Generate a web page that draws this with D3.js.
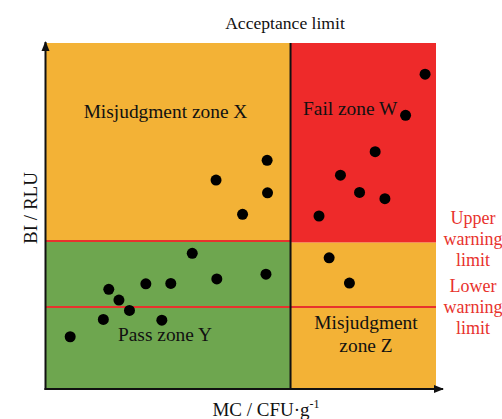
<!DOCTYPE html>
<html>
<head>
<meta charset="utf-8">
<script src="https://cdn.jsdelivr.net/npm/d3@7"></script>
<style>
  html, body { margin: 0; padding: 0; background: #fff; }
  svg text { font-family: "Liberation Serif", "Times New Roman", serif; }
</style>
</head>
<body>
<svg id="chart" width="502" height="419"></svg>
<script>
// Limits (in relative units, 0–100 on each axis)
const acceptanceLimit = 62.7;
const upperWarning = 42.8;
const lowerWarning = 23.7;

// Sample points per zone: [MC, BI]
const zoneXPoints = [[56.7, 66.1], [43.6, 60.4], [56.8, 56.7], [50.4, 50.5]];
const zoneWPoints = [[97.2, 91.0], [92.2, 79.1], [84.4, 68.6], [75.5, 61.8], [80.4, 56.8], [86.9, 55.0], [70.0, 50.0]];
const zoneZPoints = [[72.6, 37.9], [77.8, 30.6]];
const zoneYPoints = [[37.5, 39.2], [56.4, 33.2], [43.8, 31.8], [32.0, 30.5], [25.6, 30.4], [16.1, 28.8],
                     [18.7, 25.7], [21.4, 22.7], [14.7, 20.1], [29.7, 19.9], [6.2, 15.1]];

const zoneLabels = ["Misjudgment zone X", "Fail zone W", "Pass zone Y", "Misjudgment zone Z"];

const svg = d3.select("#chart");
const plotLeft = 46, plotRight = 436, plotTop = 43, plotBottom = 389;
const x = d3.scaleLinear().domain([0, 100]).range([plotLeft, plotRight]);
const y = d3.scaleLinear().domain([0, 100]).range([plotBottom, plotTop]);

const orange = "#F3B236", red = "#EE2A2A", green = "#6EA64F", warnRed = "#E8322D";

// Zone backgrounds
const zones = [
  { x0: 0, x1: acceptanceLimit, y0: upperWarning, y1: 100, fill: orange },
  { x0: acceptanceLimit, x1: 100, y0: upperWarning - 0.5, y1: 100, fill: red },
  { x0: 0, x1: acceptanceLimit, y0: 0, y1: upperWarning, fill: green },
  { x0: acceptanceLimit, x1: 100, y0: 0, y1: upperWarning - 0.5, fill: orange }
];
svg.selectAll("rect.zone").data(zones).enter().append("rect")
  .attr("class", "zone")
  .attr("x", d => x(d.x0)).attr("y", d => y(d.y1))
  .attr("width", d => x(d.x1) - x(d.x0)).attr("height", d => y(d.y0) - y(d.y1))
  .attr("fill", d => d.fill);

// Warning limits
svg.append("line")
  .attr("x1", x(0)).attr("x2", x(acceptanceLimit))
  .attr("y1", y(upperWarning)).attr("y2", y(upperWarning))
  .attr("stroke", warnRed).attr("stroke-width", 2);
svg.append("line")
  .attr("x1", x(0)).attr("x2", x(100))
  .attr("y1", y(lowerWarning)).attr("y2", y(lowerWarning))
  .attr("stroke", warnRed).attr("stroke-width", 2);

// Acceptance limit
svg.append("line")
  .attr("x1", x(acceptanceLimit)).attr("x2", x(acceptanceLimit))
  .attr("y1", y(100)).attr("y2", y(0))
  .attr("stroke", "#111").attr("stroke-width", 2);

// Axes with arrow heads
const defs = svg.append("defs");
defs.append("marker").attr("id", "arrow")
  .attr("viewBox", "0 0 10 10").attr("refX", 9).attr("refY", 5)
  .attr("markerWidth", 5).attr("markerHeight", 5).attr("orient", "auto")
  .append("path").attr("d", "M0,1 L10,5 L0,9 z").attr("fill", "#111");
svg.append("line")
  .attr("x1", x(0) - 0.5).attr("x2", x(0) - 0.5)
  .attr("y1", y(0) + 1).attr("y2", y(100) - 1)
  .attr("stroke", "#111").attr("stroke-width", 2).attr("marker-end", "url(#arrow)");
svg.append("line")
  .attr("x1", x(0) - 1.5).attr("x2", x(100) + 7)
  .attr("y1", y(0)).attr("y2", y(0))
  .attr("stroke", "#111").attr("stroke-width", 2).attr("marker-end", "url(#arrow)");

// Points
const allPoints = [].concat(zoneXPoints, zoneWPoints, zoneZPoints, zoneYPoints);
svg.selectAll("circle.pt").data(allPoints).enter().append("circle")
  .attr("class", "pt")
  .attr("cx", d => x(d[0])).attr("cy", d => y(d[1]))
  .attr("r", 5.5).attr("fill", "#000");

// Zone labels
const fsZone = 19.4, fsLimit = 17.6, fsWarn = 18, fsTitle = 19;
svg.append("text").attr("x", 165.5).attr("y", 118).attr("text-anchor", "middle")
  .attr("font-size", fsZone).attr("fill", "#111").text(zoneLabels[0]);
svg.append("text").attr("x", 303).attr("y", 115).attr("text-anchor", "start")
  .attr("font-size", fsZone).attr("fill", "#111").text(zoneLabels[1]);
svg.append("text").attr("x", 165).attr("y", 341).attr("text-anchor", "middle")
  .attr("font-size", fsZone).attr("fill", "#111").text(zoneLabels[2]);
const zLab = svg.append("text").attr("text-anchor", "middle")
  .attr("font-size", fsZone).attr("fill", "#111");
zLab.append("tspan").attr("x", 366).attr("y", 329).text("Misjudgment");
zLab.append("tspan").attr("x", 366).attr("y", 352).text("zone Z");

// Limit labels
svg.append("text").attr("x", 285).attr("y", 29).attr("text-anchor", "middle")
  .attr("font-size", fsLimit).attr("fill", "#111").text("Acceptance limit");
const upLab = svg.append("text").attr("text-anchor", "middle")
  .attr("font-size", fsWarn).attr("fill", warnRed);
["Upper", "warning", "limit"].forEach((t, i) =>
  upLab.append("tspan").attr("x", 473).attr("y", 224 + i * 21).text(t));
const lowLab = svg.append("text").attr("text-anchor", "middle")
  .attr("font-size", fsWarn).attr("fill", warnRed);
["Lower", "warning", "limit"].forEach((t, i) =>
  lowLab.append("tspan").attr("x", 473).attr("y", 292 + i * 21).text(t));

// Axis titles
svg.append("text").attr("transform", "translate(37,208) rotate(-90)")
  .attr("text-anchor", "middle").attr("font-size", fsTitle).attr("fill", "#111").text("BI / RLU");
const xt = svg.append("text").attr("x", 266).attr("y", 416).attr("text-anchor", "middle")
  .attr("font-size", fsTitle).attr("fill", "#111");
xt.append("tspan").text("MC / CFU·g");
xt.append("tspan").attr("font-size", 12).attr("dy", -8).text("-1");
</script>
</body>
</html>
